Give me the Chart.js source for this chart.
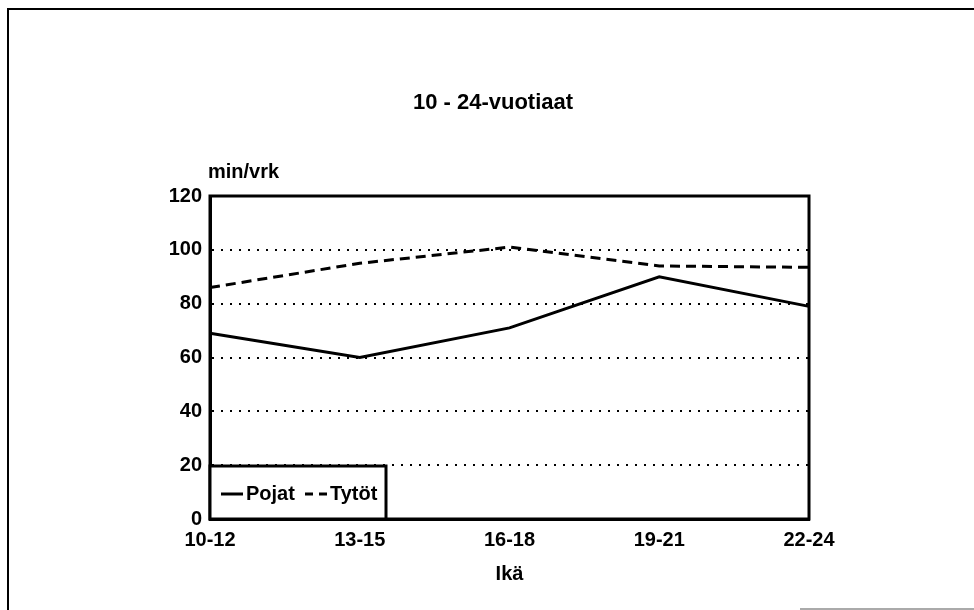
<!DOCTYPE html>
<html>
<head>
<meta charset="utf-8">
<script src="https://cdn.jsdelivr.net/npm/chart.js@4/dist/chart.umd.min.js"></script>
<style>
  body { margin: 0; background: #fff; overflow: hidden; }
  #wrap { position: relative; width: 974px; height: 610px; }
  #frame { position: absolute; left: 7px; top: 8px; width: 1000px; height: 700px;
           border-left: 2px solid #000; border-top: 2px solid #000; }
  #frameBottom { position: absolute; left: 800px; top: 608px; width: 174px; height: 2px; background: #aaa; }
  #barChart { position: absolute; left: 0; top: 0; }
</style>
</head>
<body>
<div id="wrap">
  <div id="frame"></div>
  <div id="frameBottom"></div>
  <canvas id="barChart" width="974" height="610"></canvas>
</div>
<script>
var labels = ["10-12", "13-15", "16-18", "19-21", "22-24"];
var pojat = [69, 60, 71, 90, 79];
var tytot = [86, 95, 101, 94, 93.5];
var yTicks = [0, 20, 40, 60, 80, 100, 120];

var fontFamily = "'Liberation Sans', Arial, Helvetica, sans-serif";
Chart.defaults.font.family = fontFamily;
Chart.defaults.font.weight = "bold";
Chart.defaults.color = "#000";

// title, unit label, plot frame and legend box
var extras = {
    id: "extras",
    beforeDatasetsDraw: function (chart) {
        var c = chart.ctx, a = chart.chartArea;
        c.save();
        c.strokeStyle = "#000";
        c.lineWidth = 3;
        c.strokeRect(a.left, a.top, a.right - a.left, a.bottom - a.top);
        c.restore();
    },
    afterDatasetsDraw: function (chart) {
        var c = chart.ctx, a = chart.chartArea;
        c.save();
        c.fillStyle = "#000";
        c.textBaseline = "middle";

        c.font = "bold 22px " + fontFamily;
        c.textAlign = "center";
        c.fillText("10 - 24-vuotiaat", 493, 103);

        c.font = "bold 20px " + fontFamily;
        c.textAlign = "left";
        c.fillText("min/vrk", a.left - 2, a.top - 24);

        // legend
        var bx = a.left, by = a.bottom - 53, bw = 176, bh = 53;
        c.fillStyle = "#fff";
        c.fillRect(bx, by, bw, bh);
        c.strokeStyle = "#000";
        c.lineWidth = 3;
        c.strokeRect(bx, by, bw, bh);

        var ly = by + 28;
        var items = [
            { ds: chart.data.datasets[0], x: bx + 11 },
            { ds: chart.data.datasets[1], x: bx + 95 }
        ];
        items.forEach(function (it) {
            c.beginPath();
            c.lineWidth = it.ds.borderWidth;
            c.setLineDash(it.ds.borderDash ? [8, 6] : []);
            c.moveTo(it.x, ly);
            c.lineTo(it.x + 22, ly);
            c.stroke();
            c.setLineDash([]);
            c.fillStyle = "#000";
            c.fillText(it.ds.label, it.x + 25, ly);
        });
        c.restore();
    }
};

var lineData = {
    labels: labels,
    datasets: [{
        label: "Pojat",
        data: pojat,
        borderColor: "#000",
        borderWidth: 3,
        pointRadius: 0,
        tension: 0
    }, {
        label: "Tytöt",
        data: tytot,
        borderColor: "#000",
        borderWidth: 3,
        borderDash: [10, 6],
        pointRadius: 0,
        tension: 0
    }]
};

var lineOptions = {
    responsive: false,
    animation: false,
    layout: { padding: { left: 0, right: 165, top: 196, bottom: 0 } },
    plugins: {
        legend: { display: false },
        tooltip: { enabled: false }
    },
    scales: {
        x: {
            offset: false,
            grid: { display: false, drawTicks: false },
            border: { display: true, color: "#000", width: 3 },
            ticks: { font: { size: 20 }, padding: 9, maxRotation: 0 },
            title: { display: true, text: "Ikä", font: { size: 20 }, padding: { top: 0, bottom: 24 } },
            afterFit: function (scale) { scale.height = 91; }
        },
        y: {
            min: 0,
            max: 120,
            afterBuildTicks: function (scale) {
                scale.ticks = yTicks.map(function (v) { return { value: v }; });
            },
            grid: {
                drawTicks: false,
                lineWidth: 2,
                color: function (ctx) {
                    var v = ctx.tick && ctx.tick.value;
                    return (v === 0 || v === 120) ? "rgba(0,0,0,0)" : "#000";
                }
            },
            border: { display: true, color: "#000", width: 3, dash: [2, 7] },
            ticks: { font: { size: 20 }, padding: 8 },
            afterFit: function (scale) { scale.width = 210; }
        }
    }
};

var ctx2 = document.getElementById("barChart").getContext("2d");
new Chart(ctx2, {
    type: "line",
    data: lineData,
    options: lineOptions,
    plugins: [extras]
});
</script>
</body>
</html>
